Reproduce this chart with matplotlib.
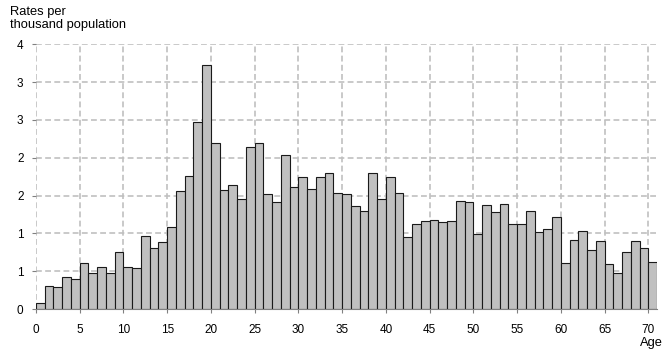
import numpy as np
import matplotlib
matplotlib.use('Agg')
import matplotlib.pyplot as plt

plt.rcParams['font.family'] = ['Liberation Sans', 'DejaVu Sans']

# Rates per thousand population by single year of age (0-70)
ages = np.arange(0, 71)
rates = [0.08, 0.31, 0.29, 0.42, 0.40, 0.61, 0.47, 0.56, 0.48, 0.75,
         0.56, 0.54, 0.96, 0.80, 0.88, 1.09, 1.56, 1.76, 2.47, 3.22,
         2.19, 1.57, 1.64, 1.46, 2.14, 2.19, 1.52, 1.42, 2.03, 1.61,
         1.75, 1.59, 1.75, 1.80, 1.54, 1.52, 1.36, 1.30, 1.80, 1.45,
         1.74, 1.53, 0.95, 1.12, 1.17, 1.18, 1.15, 1.17, 1.43, 1.42,
         0.99, 1.38, 1.28, 1.39, 1.12, 1.13, 1.30, 1.02, 1.06, 1.21,
         0.61, 0.91, 1.03, 0.78, 0.90, 0.59, 0.47, 0.75, 0.90, 0.80,
         0.62]

x_ticks = np.arange(0, 71, 5)
y_ticks = np.arange(0, 3.51, 0.5)
y_tick_labels = ['0', '1', '1', '2', '2', '3', '3', '4']

fig = plt.figure(figsize=(6.68, 3.54), dpi=100)
ax = fig.add_axes([36 / 668, 1 - 309 / 354, (657 - 36) / 668, (309 - 44.3) / 354])

ax.bar(ages, rates, width=1.0, align='edge', color='#c0c0c0',
       edgecolor='#1a1a1a', linewidth=0.8, zorder=3)

ax.set_xlim(0, 71)
ax.set_ylim(0, 3.5)
ax.set_xticks(x_ticks)
ax.set_yticks(y_ticks)
ax.set_yticklabels(y_tick_labels)

ax.grid(True, color='#c0c0c0', linestyle=(0, (3.5, 2)), linewidth=1.2, zorder=0)
for s in ['top', 'right', 'left']:
    ax.spines[s].set_visible(False)
ax.spines['bottom'].set_color('#808080')
ax.spines['bottom'].set_zorder(4)
ax.tick_params(axis='both', labelsize=8.5, colors='#808080', length=3,
               labelcolor='black')
ax.tick_params(axis='y', pad=6)
ax.tick_params(axis='x', pad=8)

fig.text(10 / 668, 1 - 6 / 354, 'Rates per\nthousand population',
         ha='left', va='top', fontsize=9.3, linespacing=1.15)
fig.text(663 / 668, 8 / 354, 'Age', ha='right', va='baseline', fontsize=9.3)

fig.savefig('out.png', dpi=100)
